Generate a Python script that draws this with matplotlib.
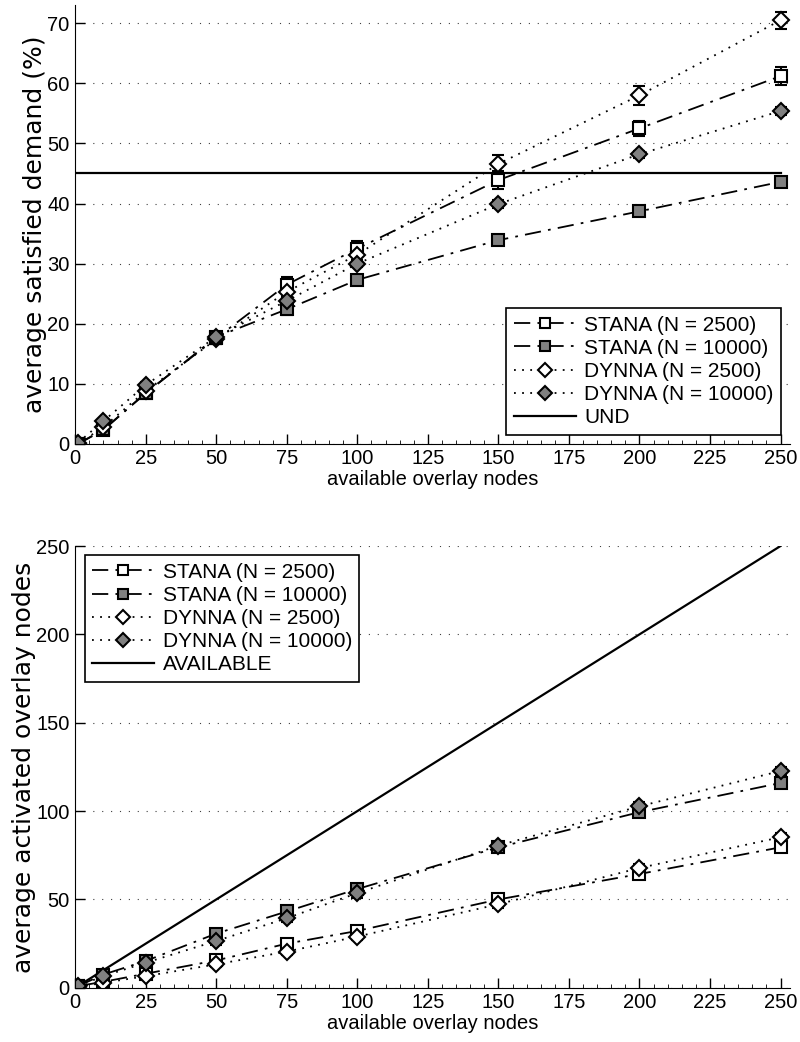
import numpy as np
import matplotlib.pyplot as plt
from matplotlib.ticker import MultipleLocator

# x positions of the measurements
nodes = [1, 10, 25, 50, 75, 100, 150, 200, 250]

# top panel: average satisfied demand (%)
dem_stana_2500 = [0.0, 2.3, 8.5, 17.6, 26.5, 32.5, 43.9, 52.5, 61.2]
dem_stana_2500_err = [0.3, 0.5, 0.6, 0.9, 1.2, 1.2, 1.5, 1.3, 1.5]
dem_stana_10000 = [0.0, 2.4, 8.4, 17.8, 22.4, 27.3, 33.9, 38.7, 43.6]
dem_stana_10000_err = [0.2, 0.4, 0.5, 0.9, 0.9, 0.6, 0.5, 0.5, 0.6]
dem_dynna_2500 = [0.0, 2.8, 8.8, 17.4, 25.3, 31.5, 46.6, 58.0, 70.5]
dem_dynna_2500_err = [0.3, 0.5, 0.6, 0.8, 1.0, 1.2, 1.5, 1.6, 1.4]
dem_dynna_10000 = [0.2, 3.8, 9.8, 17.8, 23.8, 30.0, 39.9, 48.2, 55.4]
dem_dynna_10000_err = [0.2, 0.4, 0.5, 0.7, 0.7, 0.6, 0.7, 0.6, 0.6]
und_level = 45

# bottom panel: average activated overlay nodes
act_stana_2500 = [1.0, 3.4, 8.0, 15.5, 25.0, 32.2, 50.0, 64.4, 79.5]
act_stana_2500_err = [0.3, 0.8, 1.0, 1.5, 1.8, 2.0, 2.0, 2.0, 2.5]
act_stana_10000 = [1.0, 7.5, 15.2, 30.7, 43.2, 55.9, 79.5, 99.4, 115.9]
act_stana_10000_err = [0.3, 1.0, 1.5, 2.0, 2.0, 2.0, 2.0, 2.5, 2.5]
act_dynna_2500 = [0.5, 2.8, 6.6, 13.3, 20.5, 29.0, 47.3, 67.8, 85.2]
act_dynna_2500_err = [0.3, 0.8, 1.0, 1.5, 2.0, 2.0, 2.0, 2.5, 2.5]
act_dynna_10000 = [1.0, 6.6, 14.2, 26.5, 39.4, 53.6, 80.5, 102.7, 122.7]
act_dynna_10000_err = [0.3, 1.0, 1.5, 2.0, 2.0, 2.5, 2.0, 2.5, 2.5]
avail_x = [0, 250]

labels = ['STANA (N = 2500)', 'STANA (N = 10000)', 'DYNNA (N = 2500)', 'DYNNA (N = 10000)']

plt.rcParams['font.family'] = ['Liberation Sans', 'DejaVu Sans']

dashdot = (0, (9, 4, 1.5, 4))
dotted = (0, (1, 3.5))
gray = '#808080'
styles = [
    dict(ls=dashdot, marker='s', mfc='white', ms=8.5),
    dict(ls=dashdot, marker='s', mfc=gray, ms=8.5),
    dict(ls=dotted, marker='D', mfc='white', ms=8.5),
    dict(ls=dotted, marker='D', mfc=gray, ms=8.5),
]

fig = plt.figure(figsize=(8, 10.42), dpi=100)
ax1 = fig.add_axes([0.094, 0.574, 0.894, 0.421])
ax2 = fig.add_axes([0.094, 0.052, 0.894, 0.424])


def draw_series(ax, ys, errs):
    handles = []
    for y, e, st, lab in zip(ys, errs, styles, labels):
        c = ax.errorbar(nodes, y, yerr=e, color='black', lw=1.3, ls=st['ls'],
                        marker=st['marker'], mfc=st['mfc'], mec='black', mew=1.5,
                        ms=st['ms'], elinewidth=1.5, capsize=4.5, capthick=1.5)
        c[0].set_label(lab)
        handles.append(c[0])
    return handles


def style_axes(ax, ylim, ystep):
    ax.set_xlim(0, 253.5)
    ax.set_ylim(*ylim)
    ax.xaxis.set_major_locator(MultipleLocator(25))
    ax.xaxis.set_minor_locator(MultipleLocator(5))
    ax.yaxis.set_major_locator(MultipleLocator(ystep))
    ax.tick_params(direction='in', length=7, width=1, labelsize=14.5, pad=4)
    ax.tick_params(which='minor', direction='in', length=3)
    ax.spines['top'].set_visible(False)
    ax.spines['right'].set_visible(False)
    ax.grid(axis='y', ls=(0, (1, 7)), color='0.25', lw=0.8)
    ax.set_xlabel('available overlay nodes', fontsize=14.5, labelpad=1)


def add_legend(ax, handles, loc):
    leg = ax.legend(handles=handles, loc=loc, fontsize=15, frameon=True, fancybox=False,
                    edgecolor='black', framealpha=1, handlelength=3.0, borderaxespad=0.45,
                    labelspacing=0.2, handletextpad=0.4, borderpad=0.35, markerscale=0.8)
    leg.get_frame().set_linewidth(1.2)


h1 = draw_series(ax1, [dem_stana_2500, dem_stana_10000, dem_dynna_2500, dem_dynna_10000],
                 [dem_stana_2500_err, dem_stana_10000_err, dem_dynna_2500_err, dem_dynna_10000_err])
und, = ax1.plot(avail_x, [und_level, und_level], color='black', lw=1.6, label='UND')
style_axes(ax1, (0, 73), 10)
ax1.set_ylabel('average satisfied demand (%)', fontsize=18, family=['DejaVu Sans'], labelpad=0)
add_legend(ax1, h1 + [und], 'lower right')

h2 = draw_series(ax2, [act_stana_2500, act_stana_10000, act_dynna_2500, act_dynna_10000],
                 [act_stana_2500_err, act_stana_10000_err, act_dynna_2500_err, act_dynna_10000_err])
avail, = ax2.plot(avail_x, avail_x, color='black', lw=1.6, label='AVAILABLE')
style_axes(ax2, (0, 250), 50)
ax2.set_ylabel('average activated overlay nodes', fontsize=18, family=['DejaVu Sans'], labelpad=0)
add_legend(ax2, h2 + [avail], 'upper left')

fig.savefig('out.png', dpi=100)
